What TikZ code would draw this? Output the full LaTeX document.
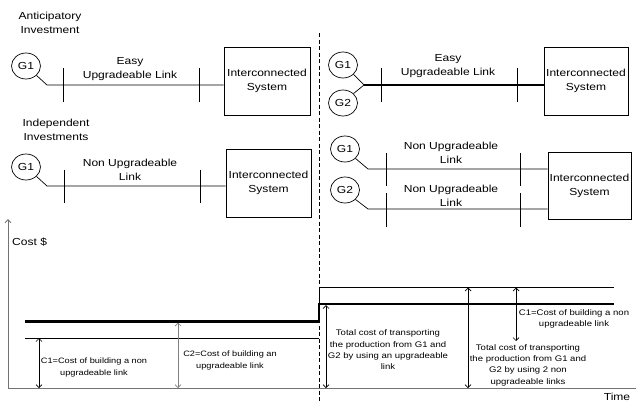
\documentclass[tikz,border=0pt]{standalone}
\usepackage{fontspec}
\setmainfont{Liberation Sans}[FakeStretch=1.18]
\usetikzlibrary{shapes.geometric,arrows.meta}
\begin{document}
\begin{tikzpicture}[x=1pt,y=-1pt,
  gen/.style={draw,ellipse,minimum width=29pt,minimum height=26pt,inner sep=0pt,font=\fontsize{10.2}{12}\selectfont,line width=0.7pt},
  sysbox/.style={draw,line width=0.8pt,inner sep=0pt,align=center,font=\fontsize{10.2}{14}\selectfont},
  lbl/.style={align=center,font=\fontsize{10.2}{14}\selectfont,inner sep=0pt},
  small/.style={align=center,font=\fontsize{7.8}{12}\selectfont,inner sep=0pt},
  mid/.style={align=center,font=\fontsize{8.1}{11.3}\selectfont,inner sep=0pt},
  link/.style={line width=0.7pt},
  heavy/.style={line width=2.5pt},
  tickline/.style={line width=0.7pt},
  dim/.style={{Straight Barb[length=3pt,width=6pt]}-{Straight Barb[length=3pt,width=6pt]},line width=0.7pt},
]
\useasboundingbox (0,0) rectangle (636,402);

% ---------- top left
\node[lbl] (ant) at (50,23) {Anticipatory\\Investment};
\node[gen] (g1a) at (26,66) {G1};
\coordinate (ja) at (47,85);
\node[sysbox,minimum width=86pt,minimum height=68pt] (sa) at (267,81) {Interconnected\\System};
\draw[link] (g1a.south east) -- (ja) -- (ja -| sa.west);
\draw[tickline] (63,68) -- (63,102);
\draw[tickline] (199,68) -- (199,102);
\node[lbl] (la) at (130,69.5) {Easy\\Upgradeable Link};

% ---------- top right
\node[gen] (g1b) at (343,65) {G1};
\node[gen] (g2b) at (343,103) {G2};
\coordinate (jb) at (364,85);
\node[sysbox,minimum width=84pt,minimum height=68pt] (sb) at (586,81) {Interconnected\\System};
\draw[link] (g1b.south east) -- (jb);
\draw[link] (g2b.north east) -- (jb);
\draw[heavy] (jb) -- (jb -| sb.west);
\draw[tickline] (381,68) -- (381,102);
\draw[tickline] (517,68) -- (517,102);
\node[lbl] (lb) at (448,66.5) {Easy\\Upgradeable Link};

% ---------- middle left
\node[lbl] (ind) at (56,130) {Independent\\Investments};
\node[gen] (g1c) at (26,167) {G1};
\coordinate (jc) at (47,186);
\node[sysbox,minimum width=85pt,minimum height=68pt] (sc) at (268.5,183) {Interconnected\\System};
\draw[link] (g1c.south east) -- (jc) -- (jc -| sc.west);
\draw[tickline] (64,170) -- (64,203);
\draw[tickline] (200,170) -- (200,203);
\node[lbl] (lc) at (130,170) {Non Upgradeable\\Link};

% ---------- middle right
\node[gen] (g1d) at (345,149) {G1};
\node[gen] (g2d) at (345,190) {G2};
\coordinate (jd1) at (368,169);
\coordinate (jd2) at (368,209);
\node[sysbox,minimum width=83pt,minimum height=67pt] (sd) at (589.5,185.5) {Interconnected\\System};
\draw[link] (g1d.south east) -- (jd1) -- (jd1 -| sd.west);
\draw[link] (g2d.south east) -- (jd2) -- (jd2 -| sd.west);
\draw[tickline] (386,153) -- (386,186);
\draw[tickline] (386,193) -- (386,227);
\draw[tickline] (520,153) -- (520,186);
\draw[tickline] (520,193) -- (520,227);
\node[lbl] (ld1) at (451,153) {Non Upgradeable\\Link};
\node[lbl] (ld2) at (451,196) {Non Upgradeable\\Link};

% ---------- divider
\draw[line width=0.8pt,dash pattern=on 4pt off 2.5pt] (319,33) -- (319,402);

% ---------- chart
\draw[gray!90!black,line width=1pt,-{Straight Barb[length=3pt,width=6pt]}] (8,388) -- (8,219);
\draw[gray!90!black,line width=1pt] (8,388) -- (636,388);
\node[lbl,anchor=west] (cost) at (12,242) {Cost \$};
\node[lbl] (time) at (617,396.5) {Time};

\draw[heavy] (25,321.5) -- (319,321.5) -- (319,304) -- (614,304);
\draw[link] (25,338) -- (319,338);
\draw[link] (319,304) -- (319,287) -- (614,287);

\draw[dim] (39,338) -- (39,388);
\draw[dim,gray] (178,322.5) -- (178,388);
\draw[dim] (326,305) -- (326,388);
\draw[dim] (468,287.5) -- (468,388);
\draw[dim] (516,287.5) -- (516,341);

\node[small] (c1l) at (94,367.5) {C1=Cost of building a non\\upgradeable link};
\node[small] (c2l) at (230,360) {C2=Cost of building an\\upgradeable link};
\node[mid] (t1) at (388,350) {Total cost of transporting\\the production from G1 and\\G2 by using an upgradeable\\link};
\node[mid] (t2) at (528,365) {Total cost of transporting\\the production from G1 and\\G2 by using 2 non\\upgradeable links};
\node[mid] (c1r) at (574,319) {C1=Cost of building a non\\upgradeable link};
\end{tikzpicture}
\end{document}
